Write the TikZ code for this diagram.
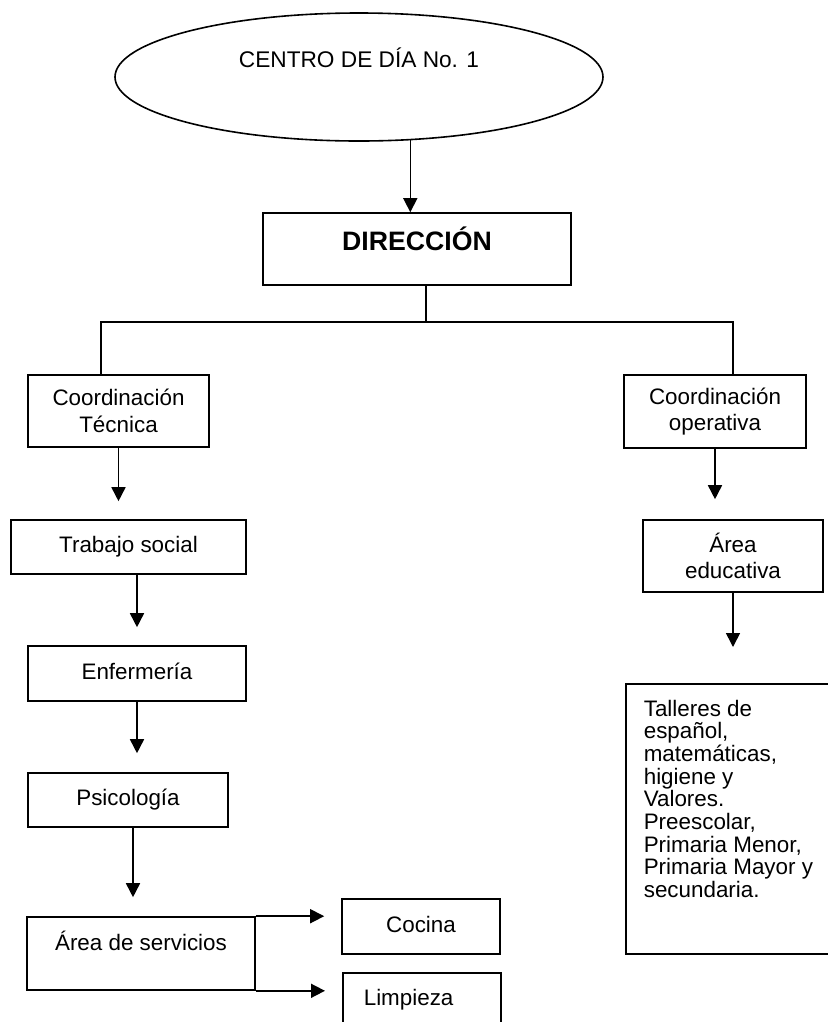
\documentclass[tikz,border=0pt]{standalone}
\usepackage{fontspec}
\setmainfont{Liberation Sans}
\usepackage{tikz}
\usetikzlibrary{arrows.meta,shapes.geometric}

\begin{document}
\begin{tikzpicture}[x=0.75pt,y=-0.75pt,line width=1.2pt,
	box/.style={draw,rectangle,inner sep=0pt,align=center,font=\fontsize{16.8}{20}\selectfont},
	oneline/.style={text height=12.5pt,text depth=4pt},
	arr/.style={-{Triangle[width=10.5pt,length=10.5pt]},shorten >=#1},
	arr/.default=0pt]
	
	\useasboundingbox (0,0) rectangle (828,1022);
	\clip (0,0) rectangle (828,1022);
	
	\node (centro) [draw,ellipse,inner sep=0pt,minimum width=366pt,minimum height=96pt,font=\fontsize{17}{20}\selectfont,text height=12.2pt,text depth=27pt] at (359,77) {CENTRO DE DÍA No. 1};
	\node (dir) [box,minimum width=231pt,minimum height=54pt,font=\fontsize{20}{24}\bfseries\selectfont,text height=14.3pt,text depth=12pt] at (417,249) {DIRECCIÓN};
	
	\node (ctec) [box,minimum width=135.75pt,minimum height=54pt] at (118.5,411) {Coordinación\\Técnica};
	\node (cop) [box,minimum width=136.5pt,minimum height=54.75pt] at (715,411.5) {Coordinación\\operativa};
	
	\node (tsoc) [box,oneline,minimum width=176.25pt,minimum height=40.5pt] at (128.5,547) {Trabajo social};
	\node (enf) [box,oneline,minimum width=163.5pt,minimum height=41.25pt] at (137,673.5) {Enfermería};
	\node (psi) [box,oneline,minimum width=150pt,minimum height=40.5pt] at (128,800) {Psicología};
	\node (serv) [box,minimum width=171pt,minimum height=54.75pt,text height=12.5pt,text depth=17.7pt] at (141,953.5) {Área de servicios};
	\node (coc) [box,oneline,minimum width=118.5pt,minimum height=41.25pt] at (421,926.5) {Cocina};
	\node (limp) [box,anchor=north west,inner xsep=15.75pt,inner ysep=12pt] at (342,972) {\parbox[c][31pt][t]{87pt}{Limpieza}};
	
	\node (aed) [box,minimum width=135pt,minimum height=54pt] at (733,556) {Área\\educativa};
	\node (tall) [box,anchor=north west,inner xsep=13.5pt,inner ysep=12pt] at (625,683) {\parbox[c][178.5pt][t]{142pt}{\fontsize{16.8}{17}\selectfont Talleres de\\español,\\matemáticas,\\higiene y\\Valores.\\Preescolar,\\Primaria Menor,\\Primaria Mayor y\\secundaria.}};
	
	\coordinate (jn) at (426,322);
	\coordinate (bl) at (101,322);
	\coordinate (br) at (733,322);
	\coordinate (ps) at ([xshift=3.75pt]psi.south);
	
	\draw[arr] (centro.-51.5) -- (centro.-51.5 |- dir.north);
	\draw (jn |- dir.south) -- (jn);
	\draw (bl |- ctec.north) -- (bl) -- (br) -- (br |- cop.north);
	
	\draw[arr=13.5pt] (ctec.south) -- (ctec.south |- tsoc.north);
	\draw[arr=13.5pt] (tsoc.south -| enf.south) -- (enf.north);
	\draw[arr=14.25pt] (enf.south) -- (enf.south |- psi.north);
	\draw[arr=14.25pt] (ps) -- (ps |- serv.north);
	\draw[arr=12.75pt] (serv.north east) -- (serv.north east -| coc.west);
	\draw[arr=12.75pt] (serv.south east) -- (serv.south east -| limp.west);
	
	\draw[arr=15pt] (cop.south) -- (cop.south |- aed.north);
	\draw[arr=27pt] (aed.south) -- (aed.south |- tall.north);
	
\end{tikzpicture}
\end{document}
